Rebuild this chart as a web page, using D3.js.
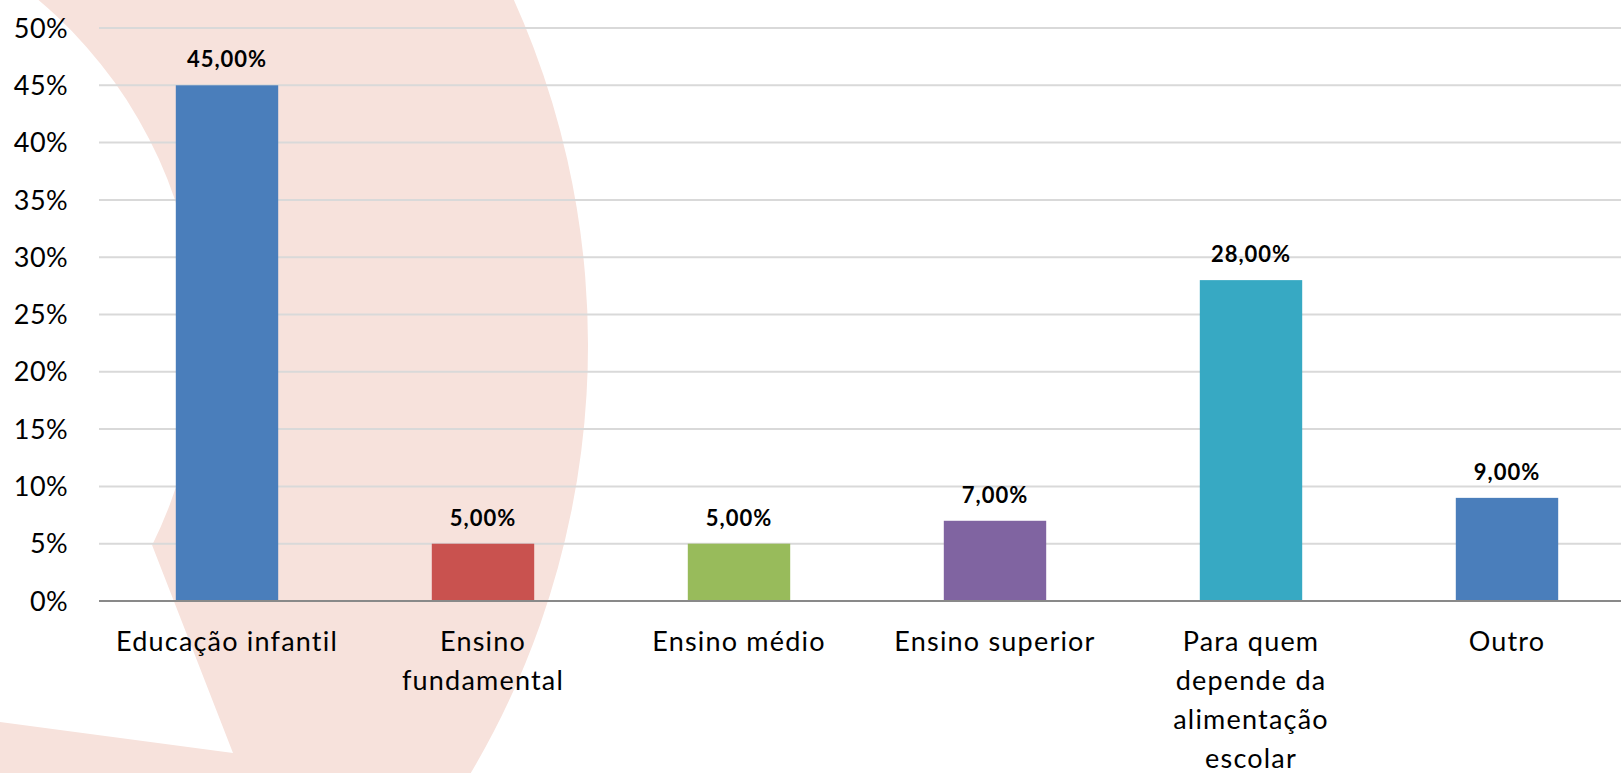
<!DOCTYPE html>
<html lang="pt">
<head>
    <meta charset="UTF-8">
    <title>Bar chart</title>
    <script src="https://d3js.org/d3.v7.min.js"></script>
    <style>
        body { margin: 0; background: #fff; overflow: hidden; }
        text { font-family: Lato, "Open Sans", sans-serif; fill: #000; }
    </style>
</head>
<body>
<script>
    const width  = 1621;
    const height = 773;

    const categories = ["Educação infantil", "Ensino fundamental", "Ensino médio",
                        "Ensino superior", "Para quem depende da alimentação escolar", "Outro"];
    const labelLines = [["Educação infantil"], ["Ensino", "fundamental"], ["Ensino médio"],
                        ["Ensino superior"], ["Para quem", "depende da", "alimentação", "escolar"], ["Outro"]];
    const values = [45, 5, 5, 7, 28, 9];
    const colors = ["#4a7ebb", "#c9524f", "#98bb5b", "#8064a1", "#37a9c3", "#4a7ebb"];
    const yTicks = [0, 5, 10, 15, 20, 25, 30, 35, 40, 45, 50];

    const margin = {left: 99, top: 28, bottom: 601};

    const svg = d3.select("body")
            .append("svg")
            .attr("width", width)
            .attr("height", height);

    // background decoration: curved arrow shape
    const cx = -252, cy = 345, rOut = 840, rIn = 451;
    const bg = d3.path();
    const aTopOut = Math.asin((-60 - cy) / rOut);
    const aBotOut = Math.asin((height + 60 - cy) / rOut);
    const aTopIn  = Math.asin((-60 - cy) / rIn);
    const aTip = 0.46;
    bg.moveTo(cx + rOut * Math.cos(aTopOut), cy + rOut * Math.sin(aTopOut));
    bg.arc(cx, cy, rOut, aTopOut, aBotOut, false);
    bg.lineTo(-20, height + 60);
    bg.lineTo(-20, 719.3);
    bg.lineTo(233, 753);
    bg.lineTo(cx + rIn * Math.cos(aTip), cy + rIn * Math.sin(aTip));
    bg.arc(cx, cy, rIn, aTip, aTopIn, true);
    bg.closePath();
    svg.append("path")
            .attr("d", bg.toString())
            .style("fill", "#f7e2dc");

    const x = d3.scaleBand()
            .domain(categories)
            .range([margin.left, margin.left + 6 * 256])
            .paddingInner(0.6)
            .paddingOuter(0.3);

    const y = d3.scaleLinear()
            .domain([0, 50])
            .range([margin.bottom, margin.top]);

    // gridlines
    svg.append("g")
            .selectAll("line")
            .data(yTicks.filter(d => d > 0))
            .join("line")
            .attr("x1", margin.left)
            .attr("x2", width)
            .attr("y1", d => y(d))
            .attr("y2", d => y(d))
            .style("stroke", "#d9d9d9")
            .style("stroke-width", 2);

    // y axis labels
    const yAxis = d3.axisLeft(y)
            .tickValues(yTicks)
            .tickFormat(d => d + "%")
            .tickSize(0)
            .tickPadding(31);
    const gy = svg.append("g")
            .attr("transform", "translate(" + margin.left + ",0)")
            .call(yAxis);
    gy.select(".domain").remove();
    gy.selectAll("text")
            .attr("dy", "0.34em")
            .style("font-size", "27px")
            .style("letter-spacing", "0.4px");

    // bars
    svg.append("g")
            .selectAll("rect")
            .data(values)
            .join("rect")
            .attr("x", (d, i) => x(categories[i]))
            .attr("width", x.bandwidth())
            .attr("y", d => y(d))
            .attr("height", d => y(0) - y(d))
            .style("fill", (d, i) => colors[i]);

    // value labels
    svg.append("g")
            .selectAll("text")
            .data(values)
            .join("text")
            .attr("x", (d, i) => x(categories[i]) + x.bandwidth() / 2)
            .attr("y", d => y(d) - 18)
            .attr("text-anchor", "middle")
            .style("font-size", "22px")
            .style("font-weight", "bold")
            .style("letter-spacing", "1px")
            .text(d => d3.format(".2f")(d).replace(".", ",") + "%");

    // x axis line
    svg.append("line")
            .attr("x1", margin.left)
            .attr("x2", width)
            .attr("y1", y(0))
            .attr("y2", y(0))
            .style("stroke", "#898989")
            .style("stroke-width", 2);

    // category labels
    const xl = svg.append("g")
            .selectAll("text")
            .data(categories)
            .join("text")
            .attr("text-anchor", "middle")
            .attr("x", d => x(d) + x.bandwidth() / 2)
            .attr("y", y(0) + 50)
            .style("font-size", "27px")
            .style("letter-spacing", "1.2px");
    xl.selectAll("tspan")
            .data((d, i) => labelLines[i])
            .join("tspan")
            .attr("x", function() { return this.parentNode.getAttribute("x"); })
            .attr("dy", (d, i) => i === 0 ? 0 : 39)
            .text(d => d);
</script>
</body>
</html>
